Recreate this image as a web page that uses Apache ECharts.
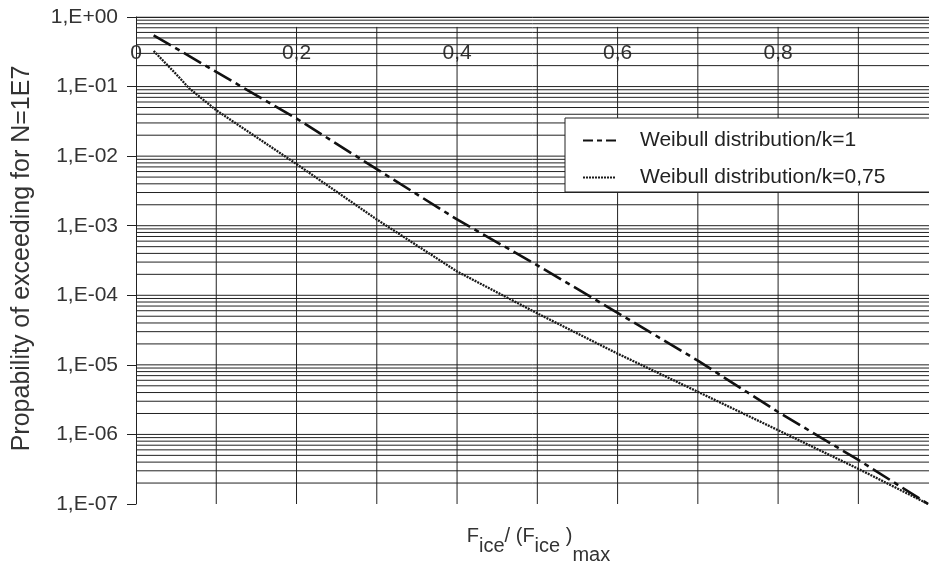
<!DOCTYPE html>
<html>
<head>
<meta charset="utf-8">
<script src="https://cdn.jsdelivr.net/npm/echarts@6/dist/echarts.min.js"></script>
<style>html,body{margin:0;padding:0;background:#fff}#c{width:929px;height:568px}</style>
</head>
<body>
<div id="c"></div>
<script>
// Data
const xK1   = [0.022, 0.1, 0.2, 0.3, 0.4, 0.5, 0.6, 0.7, 0.8, 0.9, 0.987];
const yK1   = [0.546, 0.162, 3.47e-2, 6.5e-3, 1.23e-3, 2.7e-4, 5.6e-5, 1.15e-5, 2.1e-6, 4.3e-7, 1.0e-7];
const xK075 = [0.022, 0.05, 0.066, 0.1, 0.2, 0.3, 0.4, 0.5, 0.6, 0.7, 0.8, 0.9, 0.987];
const yK075 = [0.325, 0.151, 0.095, 4.57e-2, 7.7e-3, 1.23e-3, 2.2e-4, 5.5e-5, 1.45e-5, 4.1e-6, 1.15e-6, 3.2e-7, 1.0e-7];
const seriesNames = ['Weibull distribution/k=1', 'Weibull distribution/k=0,75'];
const xTicks = [0, 0.2, 0.4, 0.6, 0.8];           // labelled x ticks
const xGridValues = [0.1, 0.2, 0.3, 0.4, 0.5, 0.6, 0.7, 0.8, 0.9]; // vertical grid lines
const xMax = 0.988;                                // visible end of the x axis (picture is cropped)
const yMin = 1e-7, yMax = 1, vGridTop = 0.72;      // vertical grid lines stop a little below the top
const decades = [0, -1, -2, -3, -4, -5, -6, -7];  // y axis decades (exponents)
const minorMultipliers = [2, 3, 4, 5, 6, 7, 8, 9];

const gridValues = [];
decades.forEach(e => {
  if (e > -7) gridValues.push(Math.pow(10, e));
  if (e < 0) minorMultipliers.forEach(m => gridValues.push(m * Math.pow(10, e)));
});

const FONT = '"Liberation Sans", Arial, sans-serif';
const chart = echarts.init(document.getElementById('c'), null, {renderer: 'canvas'});

function fmtX(v) {
  const r = Math.round(v * 10) / 10;
  if (Math.abs(r - v) > 1e-6) return '';
  if (!xTicks.some(t => Math.abs(t - r) < 1e-9)) return '';
  return String(r).replace('.', ',');
}
function fmtY(v) {
  const e = Math.round(Math.log10(v));
  const a = Math.abs(e);
  return '1,E' + (e >= 0 ? '+' : '-') + (a < 10 ? '0' : '') + a;
}

const gridLine = {color: '#222', width: 1, type: 'solid'};
const hGridSeries = gridValues.map(v => ({
  name: 'h' + v, type: 'line', xAxisIndex: 1, z: 1, silent: true,
  data: [[0, v], [xMax, v]], symbol: 'none', showSymbol: false,
  lineStyle: gridLine, emphasis: {disabled: true}
}));
const vGridSeries = xGridValues.map(x => ({
  name: 'v' + x, type: 'line', xAxisIndex: 1, z: 1, silent: true,
  data: [[x, yMin], [x, vGridTop]], symbol: 'none', showSymbol: false,
  lineStyle: gridLine, emphasis: {disabled: true}
}));

chart.setOption({
  animation: false,
  backgroundColor: '#fff',
  grid: {left: 136, top: 17, right: 0, bottom: 64, containLabel: false, outerBoundsMode: 'none'},
  legend: {
    data: [
      {name: seriesNames[0], lineStyle: {type: [10, 4, 5, 4]}},
      {name: seriesNames[1]}
    ],
    orient: 'vertical',
    left: 565, top: 118,
    padding: [12, 200, 4, 17],
    itemWidth: 33, itemHeight: 22, itemGap: 16,
    backgroundColor: '#fff',
    borderColor: '#222', borderWidth: 1,
    itemStyle: {opacity: 0},
    textStyle: {fontFamily: FONT, fontSize: 21, color: '#222', padding: [0, 0, 0, 19]}
  },
  xAxis: [
    {
      type: 'value', position: 'top', min: 0, max: xMax, interval: 0.1,
      axisLine: {show: true, lineStyle: {color: '#222', width: 1}},
      axisTick: {show: false},
      axisLabel: {inside: true, margin: 26, formatter: fmtX, fontFamily: FONT, fontSize: 21, color: '#333', showMaxLabel: false},
      splitLine: {show: false}
    },
    {
      type: 'value', position: 'bottom', min: 0, max: xMax, interval: 0.1,
      axisLine: {show: false}, axisTick: {show: false}, axisLabel: {show: false},
      splitLine: {show: false},
      name: '{f|F}{s|ice}{f|/ (}{f|F}{s|ice}{f| )}{m|max}',
      nameLocation: 'middle', nameGap: 22,
      nameTextStyle: {
        fontFamily: FONT, fontSize: 20, color: '#333', padding: [0, 0, 0, 12],
        rich: {
          f: {fontFamily: FONT, fontSize: 20, color: '#333', verticalAlign: 'top'},
          s: {fontFamily: FONT, fontSize: 20, color: '#333', verticalAlign: 'top', padding: [10, 0, -10, 0]},
          m: {fontFamily: FONT, fontSize: 20, color: '#333', verticalAlign: 'top', padding: [19, 0, -19, 0]}
        }
      }
    }
  ],
  yAxis: {
    type: 'log', logBase: 10, min: yMin, max: yMax,
    axisLine: {show: true, lineStyle: {color: '#222', width: 1}},
    axisTick: {show: true, length: 9, lineStyle: {color: '#222', width: 1}},
    axisLabel: {formatter: fmtY, margin: 18, fontFamily: FONT, fontSize: 21, color: '#333'},
    splitLine: {show: false},
    minorTick: {show: false}, minorSplitLine: {show: false},
    name: 'Propability of exceeding for N=1E7',
    nameLocation: 'middle', nameGap: 101,
    nameTextStyle: {fontFamily: FONT, fontSize: 25, color: '#333', padding: [0, 0, 0, 4]}
  },
  series: hGridSeries.concat(vGridSeries, [
    {
      name: seriesNames[0], type: 'line', xAxisIndex: 1, z: 5,
      data: xK1.map((x, i) => [x, yK1[i]]),
      symbol: 'none', showSymbol: false,
      lineStyle: {color: '#111', width: 2.6, type: [20, 5, 5, 5]},
      itemStyle: {color: '#111'}
    },
    {
      name: seriesNames[1], type: 'line', xAxisIndex: 1, z: 4,
      data: xK075.map((x, i) => [x, yK075[i]]),
      symbol: 'none', showSymbol: false,
      lineStyle: {color: '#1a1a1a', width: 2.3, type: [2, 1]},
      itemStyle: {color: '#1a1a1a'}
    }
  ])
});
</script>
</body>
</html>
